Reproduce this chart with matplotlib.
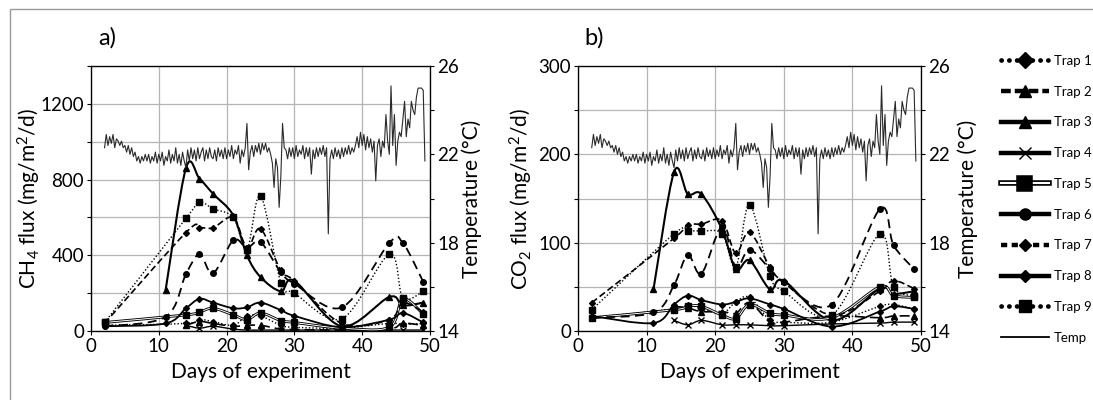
import numpy as np
import matplotlib
matplotlib.use("Agg")
from matplotlib import pyplot as plt
from matplotlib.path import Path
from matplotlib.patches import PathPatch, Rectangle
from matplotlib.lines import Line2D
import matplotlib.patheffects as pe

plt.rcParams['font.family'] = ['Lato', 'DejaVu Sans']
plt.rcParams['mathtext.fontset'] = 'custom'
plt.rcParams['mathtext.rm'] = 'Lato'
plt.rcParams['mathtext.it'] = 'Lato'

# sampling days of the traps
days = [2, 11, 14, 16, 18, 21, 23, 25, 28, 30, 37, 44, 46, 49]

# CH4 flux (mg/m2/d)
ch4_trap1 = [30, None, 40, 60, 50, 30, 80, 80, 30, 20, 15, 40, 35, 40]
ch4_trap2 = [None, None, 30, 50, 40, 25, 30, 30, 10, 8, 5, 10, 40, 30]
ch4_trap3 = [None, 215, 860, 805, 725, 610, 400, 285, 210, 265, 25, 180, 135, 150]
ch4_trap4 = [None, None, 30, 15, 25, 10, 5, 5, 5, 5, 5, 5, 5, 5]
ch4_trap5 = [45, None, 85, 100, 120, 85, 60, 95, 55, 45, 15, 20, 170, 90]
ch4_trap6 = [25, 75, 300, 405, 305, 480, 440, 470, 310, 250, 125, 465, 465, 260]
ch4_trap7 = [40, None, 520, 545, 545, 600, 440, 540, 320, 265, 40, 60, 150, 100]
ch4_trap8 = [25, 40, 120, 170, 150, 120, 125, 150, 110, 80, 20, 60, 95, 45]
ch4_trap9 = [45, None, 595, 680, 645, 600, 430, 715, 255, 200, 65, 405, 175, 210]

# CO2 flux (mg/m2/d)
co2_trap1 = [15, None, 25, 30, 25, 20, 33, 38, 12, 10, 10, 28, 30, 25]
co2_trap2 = [None, None, 28, 26, 22, 22, 20, 32, 10, 10, 17, 15, 17, 17]
co2_trap3 = [None, 47, 180, 155, 155, 115, 70, 80, 47, 57, 12, 48, 42, 45]
co2_trap4 = [None, None, 12, 7, 12, 7, 7, 7, 6, 6, 8, 9, 10, 10]
co2_trap5 = [15, None, 24, 28, 28, 18, 14, 30, 20, 18, 15, 50, 40, 38]
co2_trap6 = [15, 21, 52, 86, 65, 118, 72, 92, 70, 55, 30, 138, 97, 70]
co2_trap7 = [32, None, 105, 120, 121, 125, 88, 112, 72, 55, 18, 45, 57, 48]
co2_trap8 = [17, 9, 30, 40, 35, 30, 33, 37, 30, 25, 5, 22, 28, 25]
co2_trap9 = [24, None, 110, 113, 113, 110, 72, 143, 62, 45, 18, 110, 50, 40]

# temperature (deg C), every 6 h from day 2
temp = [22.3, 22.9, 22.4, 22.8, 22.5, 22.9, 22.3, 22.7, 22.6, 22.4, 22.6, 22.3, 22.4,
        22.1, 22.4, 22.0, 22.3, 21.9, 22.1, 21.7, 21.9, 21.6, 21.9, 21.7, 22.0,
        21.7, 22.0, 21.6, 21.9, 21.7, 22.1, 21.6, 22.0, 21.7, 22.1, 21.5, 21.9,
        21.7, 22.2, 21.6, 22.0, 21.7, 22.3, 21.6, 22.0, 21.5, 22.1, 21.7, 21.4,
        22.2, 21.7, 22.3, 21.8, 22.2, 21.7, 22.3, 21.8, 22.1, 22.3, 21.7, 22.2,
        21.8, 22.3, 21.9, 21.8, 22.2, 21.7, 22.3, 21.9, 22.2, 21.8, 22.3, 21.8,
        22.2, 21.9, 22.4, 21.8, 22.2, 22.0, 22.4, 21.6, 22.2, 21.9, 22.3, 23.4,
        21.3, 22.1, 22.4, 21.9, 22.4, 22.1, 22.5, 22.0, 22.5, 22.2, 22.5, 22.1, 22.3, 22.0,
        21.6, 20.5, 21.8, 21.4, 19.6, 21.0, 23.4, 22.3,
        22.2, 21.8, 22.3, 21.9, 22.3, 21.8, 22.4, 21.9, 22.2, 22.0, 22.4, 21.8, 22.3, 21.9, 22.3,
        21.1,
        22.2, 21.8, 22.3, 21.9, 22.3, 22.0, 22.4, 21.9, 22.3,
        18.4,
        21.8, 22.2, 21.8, 22.3, 21.9, 22.2, 21.8, 22.3, 21.9, 22.3, 22.0, 22.4, 22.0, 22.3, 22.1, 22.4,
        22.8, 22.3, 23.0, 22.4, 22.9, 22.2, 22.8, 22.3, 22.7, 22.1, 22.6,
        20.8,
        22.4, 22.7, 21.9, 22.6, 22.3,
        23.8, 22.6, 22.0, 25.1, 22.4, 23.8, 21.5, 22.6, 23.0, 22.8, 23.6, 24.4,
        22.8, 23.6, 23.2, 24.4, 24.0, 23.8, 24.6, 25.0, 25.0, 25.0, 24.9, 21.7]
temp_days = 2 + 0.25 * np.arange(len(temp))

labels = ["Trap 1", "Trap 2", "Trap 3", "Trap 4", "Trap 5",
          "Trap 6", "Trap 7", "Trap 8", "Trap 9"]

# plot styles per trap: linestyle, linewidth, marker, markersize
styles = [
    ((0, (1, 1.5)), 1.0, 'D', 3),
    ((0, (6, 3)), 1.2, '^', 4),
    ('-', 1.5, '^', 4),
    ('-', 1.0, 'x', 4),
    ('-', 1.0, 's', 4),
    ((0, (5, 3)), 1.3, 'o', 4),
    ((0, (4, 2)), 1.2, 'D', 3),
    ('-', 1.3, 'D', 3),
    ((0, (1, 1.5)), 1.0, 's', 4),
]


def smooth_path(x, y):
    # excel-like smoothed line (catmull-rom as cubic bezier)
    verts = [(x[0], y[0])]
    codes = [Path.MOVETO]
    n = len(x)
    for i in range(n - 1):
        a = i - 1 if i > 0 else i
        d = i + 2 if i + 2 < n else i + 1
        c1 = (x[i] + (x[i + 1] - x[a]) / 6, y[i] + (y[i + 1] - y[a]) / 6)
        c2 = (x[i + 1] - (x[d] - x[i]) / 6, y[i + 1] - (y[d] - y[i]) / 6)
        verts += [c1, c2, (x[i + 1], y[i + 1])]
        codes += [Path.CURVE4] * 3
    return Path(verts, codes)


def draw_panel(ax, series, ymax, ystep, ylabel, letter, lx, rx):
    for k, vals in enumerate(series):
        x = [d for d, v in zip(days, vals) if v is not None]
        y = [v for v in vals if v is not None]
        ls, lw, mk, ms = styles[k]
        if k == 4:
            patch = PathPatch(smooth_path(x, y), facecolor='none', edgecolor='white', lw=0.7,
                              path_effects=[pe.Stroke(linewidth=2.0, foreground='black'), pe.Normal()])
        else:
            patch = PathPatch(smooth_path(x, y), facecolor='none', edgecolor='black',
                              lw=lw, linestyle=ls, capstyle='butt')
        ax.add_patch(patch)
        ax.plot(x, y, ls='none', marker=mk, ms=ms, color='black', mew=1.0)

    ax.set_xlim(0, 50)
    ax.set_ylim(0, ymax)
    ax.set_xticks(range(0, 51, 10))
    yt = np.arange(0, ymax + 1, ystep)
    ax.set_yticks(yt)
    ax.set_yticklabels([str(int(v)) if v % (2 * ystep) == 0 else '' for v in yt])
    ax.grid(True, color='#b4b4b4', lw=0.9)
    ax.set_axisbelow(True)
    ax.tick_params(labelsize=13.5, length=3, width=0.8, pad=2)
    ax.set_xlabel("Days of experiment", fontsize=15, labelpad=5)
    ax.set_ylabel(ylabel, fontsize=15)
    ax.yaxis.set_label_coords(lx, 0.5)
    for s in ax.spines.values():
        s.set_linewidth(0.9)

    ax2 = ax.twinx()
    ax2.plot(temp_days, temp, color='#2a2a2a', lw=0.8)
    ax2.set_ylim(14, 26)
    ax2.set_yticks(range(14, 27, 2))
    ax2.set_yticklabels(['14', '', '18', '', '22', '', '26'])
    ax2.tick_params(labelsize=13.5, length=3, width=0.8, pad=2)
    ax2.set_ylabel("Temperature (°C)", fontsize=15)
    ax2.yaxis.set_label_coords(rx, 0.5)
    ax.text(0.02, 1.065, letter, transform=ax.transAxes, fontsize=17, va='bottom')


fig = plt.figure(figsize=(10.93, 4.0), dpi=100)
ax_a = fig.add_axes([91 / 1093, 1 - 331 / 400, 339 / 1093, 265 / 400])
ax_b = fig.add_axes([578 / 1093, 1 - 331 / 400, 343 / 1093, 265 / 400])

draw_panel(ax_a, [ch4_trap1, ch4_trap2, ch4_trap3, ch4_trap4, ch4_trap5,
                  ch4_trap6, ch4_trap7, ch4_trap8, ch4_trap9],
           1400, 200, "CH$_4$ flux (mg/m$^2$/d)", "a)", -0.142, 1.094)
draw_panel(ax_b, [co2_trap1, co2_trap2, co2_trap3, co2_trap4, co2_trap5,
                  co2_trap6, co2_trap7, co2_trap8, co2_trap9],
           300, 50, "CO$_2$ flux (mg/m$^2$/d)", "b)", -0.125, 1.105)

# legend with bigger symbols
leg_styles = [
    ((0, (0.05, 1.6)), 3.4, 'D', 8),
    ((0, (2.2, 0.9)), 3.2, '^', 8),
    ('-', 3.2, '^', 8),
    ('-', 3.2, 'x', 8),
    ('-', 3.2, 's', 8),
    ('-', 3.2, 'o', 8),
    ((0, (1.4, 1.0)), 3.2, 'D', 6),
    ('-', 3.2, 'D', 6),
    ((0, (0.05, 1.6)), 3.4, 's', 8),
]
handles = []
for k, (ls, lw, mk, ms) in enumerate(leg_styles):
    if k == 4:
        h = Line2D([], [], color='white', lw=1.5, marker=mk, ms=ms, mfc='black', mec='black',
                   path_effects=[pe.Stroke(linewidth=4, foreground='black'), pe.Normal()])
    elif ls == '-':
        h = Line2D([], [], color='black', lw=lw, ls=ls, marker=mk, ms=ms)
    else:
        h = Line2D([], [], color='black', lw=lw, ls=ls, marker=mk, ms=ms,
                   dash_capstyle='round' if lw > 3.3 else 'butt')
    handles.append(h)
handles.append(Line2D([], [], color='black', lw=1.3))
fig.legend(handles, labels + ["Temp"], loc='upper left',
           bbox_to_anchor=(1001 / 1093, 1 - 55 / 400), frameon=False, fontsize=9.5,
           handlelength=3.6, handletextpad=0.4, labelspacing=1.42,
           borderaxespad=0, borderpad=0)

fig.patches.append(Rectangle((10 / 1093, -0.1), 1.2, 1.1 - 9 / 400, transform=fig.transFigure,
                             fill=False, edgecolor='#9a9a9a', lw=1.0))

plt.savefig('out.png', dpi=100)
